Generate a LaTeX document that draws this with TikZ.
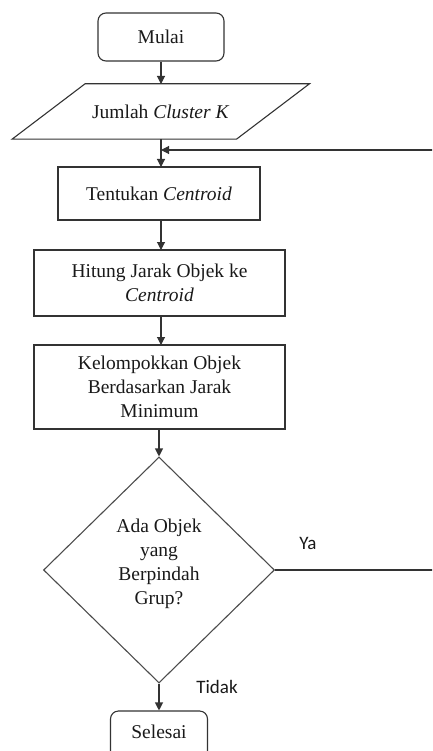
\documentclass[tikz,border=0pt]{standalone}
\usepackage{fontspec}
\setmainfont{Liberation Serif}
\newfontfamily\labelfont{Carlito}
\usetikzlibrary{arrows.meta,shapes.geometric,calc}

\tikzset{
  line/.style={draw=black!80, line width=1.1pt},
  flow/.style={line, -{Triangle[length=8pt,width=8pt]}},
  txt/.style={font=\fontsize{19.5}{24}\selectfont, align=center, text=black!90},
  terminal/.style={txt, line, rounded corners=8pt, minimum width=126pt, minimum height=48pt, inner sep=0pt},
  process/.style={txt, line, minimum height=53pt, inner sep=0pt},
  decision/.style={txt, line, draw=black!70, diamond, minimum width=231pt, minimum height=226pt, inner sep=0pt},
  branch/.style={font=\labelfont\fontsize{19}{22}\selectfont, text=black!90}
}

\begin{document}
\begin{tikzpicture}[x=1pt,y=-1pt]
  \useasboundingbox (0,0) rectangle (432,751);
  \clip (0,0) rectangle (432,751);

  % start
  \node[terminal] (mulai) at (161,37) {Mulai};

  % input: number of clusters (parallelogram drawn round the text node)
  \node[txt, minimum width=224pt, minimum height=55pt, inner sep=0pt] (input) at (160.75,111.5)
    {Jumlah \textit{Cluster K}};
  \draw[line] ($(input.north west)+(36.5,0)$) -- ($(input.north east)+(36.5,0)$)
    -- ($(input.south east)+(-36.5,0)$) -- ($(input.south west)+(-36.5,0)$) -- cycle;

  % processing steps
  \node[process, minimum width=202pt] (tentukan) at (159,193.5) {Tentukan \textit{Centroid}};
  \node[process, minimum width=251pt, minimum height=66pt] (hitung) at (159.5,283)
    {Hitung Jarak Objek ke\\\textit{Centroid}};
  \node[process, minimum width=251pt, minimum height=84pt] (kelompok) at (159.5,387)
    {Kelompokkan Objek\\Berdasarkan Jarak\\Minimum};

  % decision
  \node[decision] (cek) at (159,570) {};
  \node[txt] (cektext) at (159,564) {Ada Objek\\yang\\Berpindah\\Grup?};

  % end
  \node[terminal, minimum width=97pt] (selesai) at (159,735) {};
  \node[txt] (selesaitext) at (159,732) {Selesai};

  % loop-back junction
  \coordinate (join) at (161,150);
  \coordinate (loopa) at (445,570);
  \coordinate (loopb) at (445,150);

  % connectors
  \draw[flow] (mulai.south) -- (161,84);
  \draw[line] (161,139) -- (join);
  \draw[flow] (join) -- (161,167);
  \draw[flow] (161,220) -- (161,250);
  \draw[flow] (161,316) -- (161,345);
  \draw[flow] (cek.north |- kelompok.south) -- (cek.north);
  \draw[flow] (cek.south) -- (selesai.north);
  \draw[line] (cek.east) -- (loopa) -- (loopb);
  \draw[flow] (loopb) -- (join);

  % branch labels
  \node[branch] (ya) at (308,543) {Ya};
  \node[branch] (tidak) at (217,687) {Tidak};
\end{tikzpicture}
\end{document}
